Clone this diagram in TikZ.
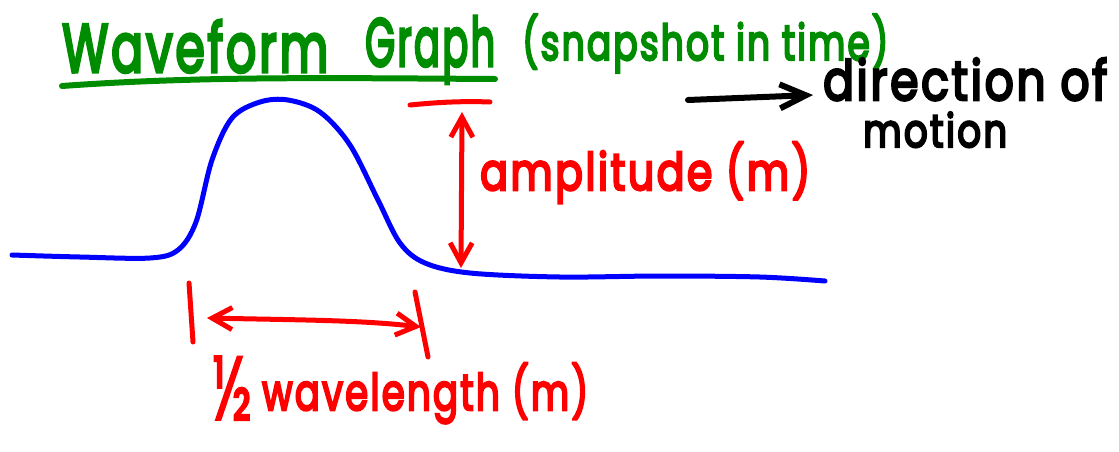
\documentclass[tikz,border=0pt]{standalone}
\usepackage{fontspec}
\setmainfont{Poppins}
\newfontfamily\hand{Poppins}[LetterSpace=6, FakeBold=5]
\newfontfamily\handhalf{Poppins}[FakeBold=2]
\usetikzlibrary{arrows.meta}
\definecolor{inkgreen}{RGB}{0,140,0}
\definecolor{inkred}{RGB}{255,0,0}
\definecolor{inkblue}{RGB}{0,0,255}
% box a word into a given width and height above the baseline
\newcommand{\fitbox}[3]{\resizebox{#1}{#2}{\hand #3}}
\tikzset{
  pen/.style={line width=5pt, line cap=round, line join=round},
  dbarb/.style={{Straight Barb[length=20pt,width=22pt,line width=5pt]}-{Straight Barb[length=20pt,width=22pt,line width=5pt]}},
  lbl/.style={inner sep=0pt, anchor=base west},
}
\begin{document}
\begin{tikzpicture}[x=1pt,y=-1pt]
\useasboundingbox (0,0) rectangle (1119,451);

% heading
\node[lbl, text=inkgreen] (hwave) at (62,72) {\fitbox{266pt}{52pt}{Waveform}};
\node[lbl, text=inkgreen] (hgraph) at (365,66) {\fitbox{130pt}{50pt}{Graph}};
\node[lbl, text=inkgreen] (hsnap) at (522,60) {\fitbox{366pt}{46pt}{(snapshot in time)}};
\coordinate (ul1) at (62,86);
\coordinate (ul2) at (495,79);
\draw[pen, line width=6pt, inkgreen] (ul1) .. controls (200,76) and (330,78) .. (ul2);

% direction of motion
\coordinate (dm1) at (688,100);
\coordinate (dm2) at (813,95);
\draw[pen, line width=6pt, black, -{Straight Barb[length=26pt,width=24pt,line width=6pt]}] (dm1) -- (dm2);
\node[lbl] (dir) at (823,100) {\fitbox{284pt}{42pt}{direction of}};
\node[lbl] (mot) at (863,147) {\fitbox{144pt}{35pt}{motion}};

% the wave pulse
\draw[pen, inkblue] plot[smooth, tension=0.55] coordinates {
  (12,255) (80,257) (150,258) (178,250) (196,222) (212,160) (232,118)
  (260,102) (288,100) (320,112) (350,145) (378,200) (400,243) (425,263)
  (470,273) (560,277) (660,276) (760,277) (825,281)};

% amplitude
\coordinate (atop) at (410,105);
\coordinate (atop2) at (490,102);
\draw[pen, inkred] (atop) .. controls (440,102) and (465,101) .. (atop2);
\coordinate (a1) at (462,112);
\coordinate (a2) at (461,268);
\draw[pen, inkred, dbarb] (a1) -- (a2);
\node[lbl, text=inkred] (amp) at (480,190) {\fitbox{330pt}{48pt}{amplitude (m)}};

% half wavelength
\coordinate (t1a) at (189,283);
\coordinate (t1b) at (193,342);
\coordinate (t2a) at (415,292);
\coordinate (t2b) at (428,357);
\draw[pen, inkred] (t1a) -- (t1b);
\draw[pen, inkred] (t2a) -- (t2b);
\coordinate (w1) at (207,318);
\coordinate (w2) at (421,327);
\draw[pen, inkred, dbarb] (w1) .. controls (300,320) and (360,320) .. (w2);
\node[lbl, text=inkred] (half) at (212,420) {\resizebox{40pt}{64pt}{\handhalf ½}};
\node[lbl, text=inkred] (wlen) at (262,410) {\fitbox{326pt}{47pt}{wavelength (m)}};
\end{tikzpicture}
\end{document}
